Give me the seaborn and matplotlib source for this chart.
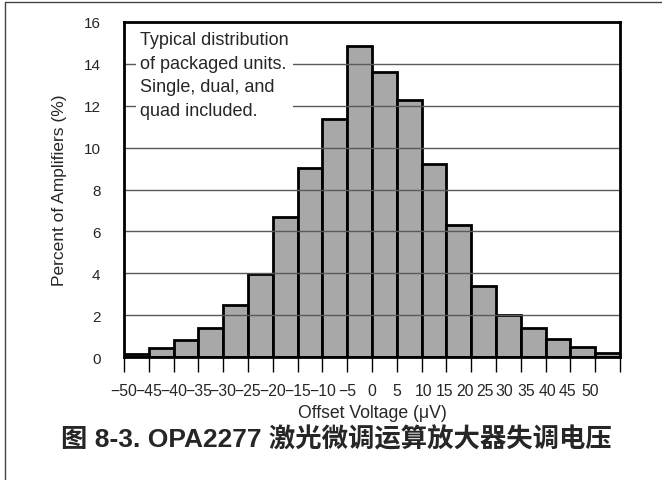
import matplotlib
matplotlib.use("Agg")
import matplotlib.pyplot as plt
import seaborn as sns
import numpy as np
from matplotlib.lines import Line2D

# Offset voltage histogram bins (uV) and percent of amplifiers per bin
bin_edges = [-50, -45, -40, -35, -30, -25, -20, -15, -10, -5, 0,
             5, 10, 15, 20, 25, 30, 35, 40, 45, 50]
pct_amplifiers = [0.15, 0.42, 0.83, 1.37, 2.48, 3.98, 6.67, 9.03, 11.35, 14.85,
                  13.63, 12.27, 9.2, 6.31, 3.4, 2.02, 1.37, 0.86, 0.46, 0.18]
x_tick_labels = ['−50', '−45', '−40', '−35', '−30', '−25', '−20', '−15', '−10', '−5',
                 '0', '5', '10', '15', '20', '25', '30', '35', '40', '45', '50']
y_ticks = [0, 2, 4, 6, 8, 10, 12, 14, 16]
note = "Typical distribution\nof packaged units.\nSingle, dual, and\nquad included."
caption = "图 8-3. OPA2277 激光微调运算放大器失调电压"

# label positions as printed in the datasheet (right side is squeezed)
label_pos = [-50, -45, -40, -35, -30, -25, -20, -15, -10, -5,
             0, 5, 10.5, 14.7, 18.8, 22.7, 26.7, 31.0, 35.4, 39.5, 43.9]

sns.set_style("white")
plt.rcParams['font.family'] = ['Liberation Sans', 'Noto Sans CJK SC', 'DejaVu Sans']

fig = plt.figure(figsize=(6.62, 4.81), dpi=100)
ax = fig.add_axes([0.1873, 0.2557, 0.7492, 0.6965])

bin_centers = [(a + b) / 2 for a, b in zip(bin_edges[:-1], bin_edges[1:])]
sns.histplot(x=bin_centers, weights=pct_amplifiers, bins=bin_edges, ax=ax,
             color='#a8a8a8', edgecolor='black', linewidth=2, alpha=1, zorder=1)

ax.set_xlim(-50, 50)
ax.set_ylim(0, 16)

# horizontal grid drawn over the bars
ax.set_axisbelow(False)
for v in y_ticks[1:-1]:
    ax.axhline(v, color='#5a5a5a', linewidth=1, zorder=2)

ax.set_yticks(y_ticks)
ax.tick_params(axis='y', length=0, pad=17, labelsize=11)

ax.xaxis.remove_overlapping_locs = False
ax.set_xticks(bin_edges, minor=True)
ax.set_xticks(label_pos)
ax.set_xticklabels(x_tick_labels)
ax.tick_params(axis='x', which='minor', length=11, width=1, direction='out', color='black')
ax.tick_params(axis='x', which='major', length=0, pad=19, labelsize=11.3)
ax.xaxis.set_tick_params(bottom=True, which='both')

for s in ax.spines.values():
    s.set_linewidth(2)
    s.set_color('black')
    s.set_zorder(5)

ax.set_xlabel('Offset Voltage (μV)', fontsize=12.7, labelpad=4)
ax.set_ylabel('Percent of Amplifiers (%)', fontsize=12.5, labelpad=12)

ax.text(0.032, 0.972, note, transform=ax.transAxes, ha='left', va='top',
        fontsize=13, linespacing=1.5, zorder=4,
        bbox=dict(facecolor='white', edgecolor='none', pad=3))

fig.text(0.508, 0.085, caption, ha='center', va='center', fontsize=19,
         fontweight='bold')

# frame of the datasheet figure box
fig.add_artist(Line2D([0.0075, 1], [0.994, 0.994], transform=fig.transFigure,
                      color='#444444', linewidth=1))
fig.add_artist(Line2D([0.0075, 0.0075], [0, 0.994], transform=fig.transFigure,
                      color='#444444', linewidth=1))

fig.savefig('out.png', dpi=100)
